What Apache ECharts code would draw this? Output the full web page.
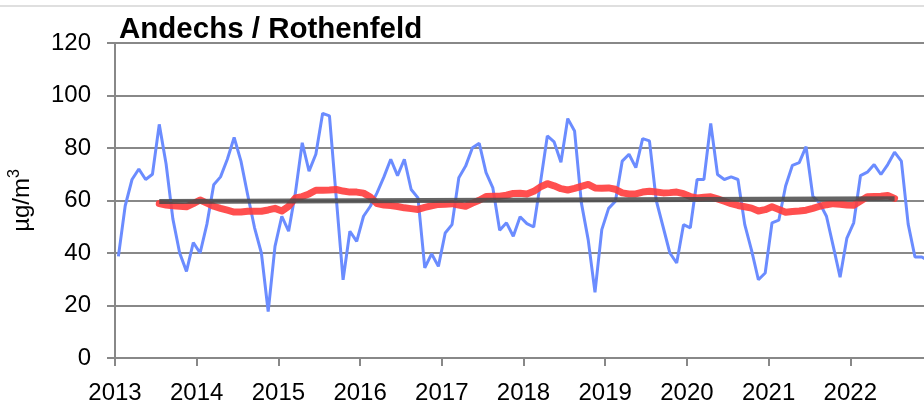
<!DOCTYPE html>
<html>
<head>
<meta charset="utf-8">
<script src="https://cdn.jsdelivr.net/npm/echarts@6/dist/echarts.min.js"></script>
<style>
    html, body { margin: 0; padding: 0; background: #fff; }
    #chart { width: 924px; height: 401px; }
</style>
</head>
<body>
<div id="chart"></div>
<script>
// Monatswerte ab Januar 2013
var startYear = 2013;
var monthly = [
    38.7, 58, 68, 72, 68, 70, 89, 74, 53, 40, 33, 44,
    40, 51, 66, 69, 75.7, 84, 75, 62, 49.6, 40, 17.7, 42.5,
    54, 48.3, 63, 82, 71.2, 77.6, 93.2, 92.2, 61, 29.8, 48.3, 44.4,
    54, 57.8, 63, 69, 75.7, 69.5, 75.7, 64.2, 61, 34.3, 39.7, 34.9,
    47.6, 50.8, 68.7, 73.1, 80.1, 81.8, 70.6, 64.8, 48.7, 51.5, 46.4, 53.8,
    51.2, 49.9, 67, 84.6, 82.3, 74.6, 91.2, 86.5, 59.1, 45.1, 25, 48.9,
    57, 59.7, 75, 77.6, 72.5, 83.6, 82.7, 60, 50, 40, 36.2, 50.8,
    49.6, 68, 68, 89.4, 69.9, 68, 69, 68, 50.8, 41, 29.8, 32.4,
    51.5, 52.5, 65.5, 73.4, 74.4, 80.5, 61.6, 59, 54, 42.5, 30.8, 45.7,
    51.5, 69.5, 70.8, 73.7, 69.9, 73.7, 78.4, 75, 51, 38.5, 38.5, 37
];

// gleitendes Jahresmittel, beginnt im Juli 2013 (Monat 6)
var meanStart = 6;
var runningMean = [
    58.8, 58.3, 58.0, 57.8, 57.6, 58.8,
    60.2, 59.0, 57.8, 57.0, 56.3, 55.6, 55.6, 55.9, 55.9, 55.9, 56.4, 57.0,
    56.0, 57.8, 61.0, 61.5, 62.5, 63.9, 63.9, 64.0, 64.2, 63.6, 63.2, 63.2,
    62.8, 61.3, 58.8, 58.3, 58.1, 57.7, 57.2, 56.9, 56.6, 57.4, 58.0, 58.5,
    58.6, 58.8, 58.3, 57.8, 59.0, 60.1, 61.5, 61.6, 61.6, 62.0, 62.7, 62.8,
    62.5, 63.5, 65.2, 66.4, 65.6, 64.5, 64.0, 64.6, 65.4, 66.1, 64.8, 64.7,
    64.8, 64.3, 62.9, 62.5, 62.5, 63.2, 63.5, 63.2, 62.9, 63.0, 63.2, 62.6,
    61.5, 61.0, 61.2, 61.4, 60.6, 59.7, 58.8, 58.1, 57.6, 57.1, 56.0, 56.5,
    57.6, 56.6, 55.5, 55.8, 56.0, 56.3, 57.0, 57.8, 58.4, 58.8, 58.6, 58.3,
    58.2, 59.8, 61.4, 61.5, 61.6, 61.9, 60.8
];

// linearer Trend (Anfangs- und Endmonat)
var trendMonths = [6, 114];
var trendValues = [59.6, 60.7];

var yTicks = [0, 20, 40, 60, 80, 100, 120];

var font = 'Liberation Sans, Arial, sans-serif';

function monthX(i) {
    return startYear + (i + 0.5) / 12;
}

function toPoints(values, offset) {
    return values.map(function (v, i) {
        return [monthX(i + offset), v];
    });
}

var myChart = echarts.init(document.getElementById('chart'));

var option = {
    backgroundColor: '#fff',
    animation: false,
    title: {
        text: 'Andechs / Rothenfeld',
        left: 114,
        top: 10,
        textStyle: {
            fontFamily: font,
            fontSize: 29.5,
            fontWeight: 'bold',
            color: '#000'
        }
    },
    graphic: [
        {
            type: 'line',
            shape: { x1: 0, y1: 6, x2: 924, y2: 6 },
            style: { stroke: '#d4d4d4', lineWidth: 1.5 }
        }
    ],
    grid: {
        left: 115,
        right: -8,
        top: 43,
        bottom: 43,
        outerBoundsMode: 'none'
    },
    xAxis: {
        type: 'value',
        min: 2013,
        max: 2023,
        interval: 1,
        axisLine: {
            lineStyle: { color: '#888', width: 2 }
        },
        axisTick: {
            length: 8,
            lineStyle: { color: '#888', width: 2 }
        },
        splitLine: { show: false },
        axisLabel: {
            margin: 23,
            fontFamily: font,
            fontSize: 24,
            color: '#000',
            formatter: function (value) {
                return value >= 2023 ? '' : String(value);
            }
        }
    },
    yAxis: {
        type: 'value',
        min: yTicks[0],
        max: yTicks[yTicks.length - 1],
        interval: 20,
        name: 'µg/m{sup|3}',
        nameLocation: 'middle',
        nameRotate: 90,
        nameGap: 78,
        nameTextStyle: {
            fontFamily: font,
            fontSize: 24,
            color: '#000',
            rich: {
                sup: {
                    fontFamily: font,
                    fontSize: 16,
                    color: '#000',
                    padding: [0, 0, 14, 0]
                }
            }
        },
        axisLine: {
            show: true,
            lineStyle: { color: '#888', width: 2 }
        },
        axisTick: {
            show: true,
            length: 8,
            lineStyle: { color: '#888', width: 2 }
        },
        axisLabel: {
            margin: 24,
            fontFamily: font,
            fontSize: 24,
            color: '#000'
        },
        splitLine: {
            lineStyle: { color: '#888', width: 2 }
        }
    },
    series: [
        {
            name: 'Monatsmittel',
            type: 'line',
            data: toPoints(monthly, 0),
            showSymbol: false,
            lineStyle: { color: '#6b8cff', width: 3 },
            z: 2
        },
        {
            name: 'gleitendes Jahresmittel',
            type: 'line',
            data: toPoints(runningMean, meanStart),
            showSymbol: false,
            lineStyle: { color: '#ff3c3c', width: 7, cap: 'round', join: 'round', opacity: 0.9 },
            z: 3
        },
        {
            name: 'Trend',
            type: 'line',
            data: trendMonths.map(function (m, i) {
                return [monthX(m), trendValues[i]];
            }),
            showSymbol: false,
            lineStyle: { color: '#4a4a4a', width: 5, opacity: 0.85 },
            z: 4
        }
    ]
};

myChart.setOption(option);
</script>
</body>
</html>
